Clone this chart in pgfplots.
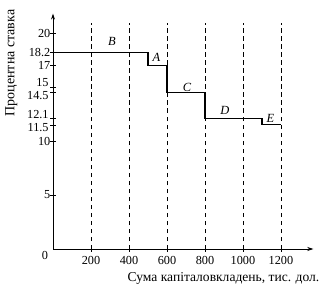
\documentclass[border=0pt]{standalone}
\usepackage{pgfplots}
\pgfplotsset{compat=1.18}
\usetikzlibrary{arrows.meta}
\usepackage{fontspec}
\setmainfont{Liberation Serif}
\begin{document}
\begin{tikzpicture}[font=\fontsize{12}{13}\selectfont]
\begin{axis}[
  x=0.19bp, y=10.8bp,
  xmin=0, xmax=1370, ymin=0, ymax=21.8,
  axis lines=left,
  axis line style={line width=0.8pt, -{Stealth[length=6bp,width=4bp]}},
  xtick={200,400,600,800,1000,1200},
  ytick={5,10,11.5,12.1,14.5,15,17,18.2,20},
  yticklabels={5,10,{},{},{},{},17,18.2,20},
  tick align=center,
  major tick length=5bp,
  tick style={line width=0.6pt, black},
  ticklabel style={font=\fontsize{12.3}{13}\selectfont},
  xticklabel style={yshift=-1bp},
  yticklabel style={xshift=1bp, inner xsep=1pt, inner ysep=0pt},
  /pgf/number format/assume math mode=true,
  /pgf/number format/1000 sep={},
  xlabel={Сума капіталовкладень, тис. дол.},
  xlabel style={at={(axis description cs:0.655,-0.125)}, anchor=center, font=\fontsize{13.6}{14}\selectfont},
  ylabel={Процентна ставка},
  ylabel style={at={(axis description cs:-0.16,0.79)}, anchor=center, rotate=0, font=\fontsize{14}{15}\selectfont},
  clip=false,
]
\addplot[ycomb, black, line width=0.5pt, dash pattern=on 4.5bp off 3.5bp, mark=none]
  coordinates {(200,20.9) (400,20.9) (600,20.9) (800,20.9) (1000,20.9) (1200,20.9)};
\addplot[const plot, black, line width=1.2pt, mark=none]
  coordinates {(0,18.2) (500,17) (600,14.5) (800,12.1) (1100,11.5) (1200,11.5)};
\node[font=\itshape\fontsize{12.5}{13}\selectfont] at (axis cs:310,19.2) {B};
\node[font=\itshape\fontsize{12.5}{13}\selectfont] at (axis cs:545,17.7) {A};
\node[font=\itshape\fontsize{12.5}{13}\selectfont] at (axis cs:705,15.0) {C};
\node[font=\itshape\fontsize{12.5}{13}\selectfont] at (axis cs:905,12.8) {D};
\node[font=\itshape\fontsize{12.5}{13}\selectfont] at (axis cs:1145,12.1) {E};
\begin{scope}[every node/.style={font=\fontsize{12.3}{13}\selectfont, anchor=east, inner xsep=1pt, inner ysep=0pt, xshift=-3.2bp}]
\node[yshift=4bp] at (axis cs:0,15) {15};
\node[yshift=-3bp] at (axis cs:0,14.5) {14.5};
\node[yshift=4bp] at (axis cs:0,12.1) {12.1};
\node[yshift=-3bp] at (axis cs:0,11.5) {11.5};
\end{scope}
\node[font=\fontsize{12.3}{13}\selectfont] at (axis cs:0,0) [xshift=-8bp,yshift=-6bp] {0};
\coordinate (O) at (axis cs:0,0);
\end{axis}
\pgfresetboundingbox
\path (O) ++(-53bp,-40bp) rectangle ++(322bp,289bp);
\end{tikzpicture}
\end{document}
